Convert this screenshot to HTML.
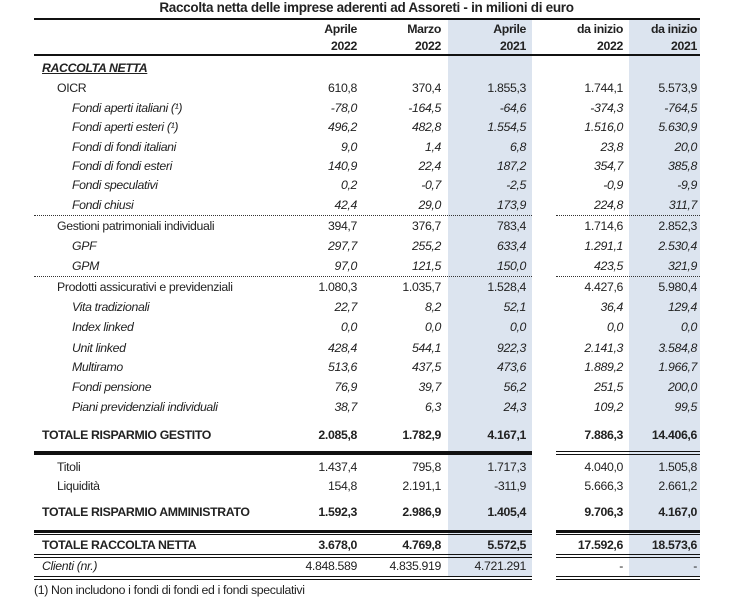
<!DOCTYPE html>
<html><head><meta charset="utf-8"><style>
body{margin:0;width:733px;height:604px;background:#fff;position:relative;overflow:hidden;font-family:"Liberation Sans",sans-serif;color:#222}
.a{position:absolute;white-space:nowrap}
.t{font-size:12.3px;letter-spacing:-0.35px}
.blue{position:absolute;background:#dce4ef}
.ln{position:absolute;background:#111}
.dot{position:absolute;border-top:1px dotted #333;height:0}
</style></head><body>
<div class="a" style="left:0;width:733px;text-align:center;top:0;font-size:13.5px;font-weight:bold;letter-spacing:-0.3px">Raccolta netta delle imprese aderenti ad Assoreti - in milioni di euro</div>
<div class="blue" style="left:448px;top:20px;width:84px;height:557px"></div>
<div class="blue" style="left:629px;top:20px;width:71px;height:557px"></div>
<div id="root"></div>
<script>
const colHeads1=["Aprile","Marzo","Aprile","da inizio","da inizio"];
const colHeads2=["2022","2022","2021","2022","2021"];
const colRight=[357,441,526,623,697];
const labels=["OICR","Fondi aperti italiani (¹)","Fondi aperti esteri (¹)","Fondi di fondi italiani","Fondi di fondi esteri","Fondi speculativi","Fondi chiusi","Gestioni patrimoniali individuali","GPF","GPM","Prodotti assicurativi e previdenziali","Vita tradizionali","Index linked","Unit linked","Multiramo","Fondi pensione","Piani previdenziali individuali","TOTALE RISPARMIO GESTITO","Titoli","Liquidità","TOTALE RISPARMIO AMMINISTRATO","TOTALE RACCOLTA NETTA","Clienti (nr.)"];
const rowY=[88,108,127,147,166,185,205,226,246,266,287,307,327,348,367,387,407,435,467,486,512,545,566];
const styles=["n","i","i","i","i","i","i","n","i","i","n","i","i","i","i","i","i","b","n","n","b","b","i"];
const aprile2022=["610,8","-78,0","496,2","9,0","140,9","0,2","42,4","394,7","297,7","97,0","1.080,3","22,7","0,0","428,4","513,6","76,9","38,7","2.085,8","1.437,4","154,8","1.592,3","3.678,0","4.848.589"];
const marzo2022=["370,4","-164,5","482,8","1,4","22,4","-0,7","29,0","376,7","255,2","121,5","1.035,7","8,2","0,0","544,1","437,5","39,7","6,3","1.782,9","795,8","2.191,1","2.986,9","4.769,8","4.835.919"];
const aprile2021=["1.855,3","-64,6","1.554,5","6,8","187,2","-2,5","173,9","783,4","633,4","150,0","1.528,4","52,1","0,0","922,3","473,6","56,2","24,3","4.167,1","1.717,3","-311,9","1.405,4","5.572,5","4.721.291"];
const ytd2022=["1.744,1","-374,3","1.516,0","23,8","354,7","-0,9","224,8","1.714,6","1.291,1","423,5","4.427,6","36,4","0,0","2.141,3","1.889,2","251,5","109,2","7.886,3","4.040,0","5.666,3","9.706,3","17.592,6","-"];
const ytd2021=["5.573,9","-764,5","5.630,9","20,0","385,8","-9,9","311,7","2.852,3","2.530,4","321,9","5.980,4","129,4","0,0","3.584,8","1.966,7","200,0","99,5","14.406,6","1.505,8","2.661,2","4.167,0","18.573,6","-"];
const series=[aprile2022,marzo2022,aprile2021,ytd2022,ytd2021];
const root=document.getElementById('root');
function txt(s,x,y,st,right){const d=document.createElement('div');d.className='a t';d.textContent=s;d.style.top=(y-7)+'px';
if(right){d.style.right=(733-x)+'px';}else d.style.left=x+'px';
if(st==='i')d.style.fontStyle='italic';if(st==='b')d.style.fontWeight='bold';root.appendChild(d);return d;}
colHeads1.forEach((h,i)=>{const d=txt(h,colRight[i],29,'b',true);


const e=txt(colHeads2[i],colRight[i],46,'b',true);

});
const sec=txt('RACCOLTA NETTA',42,68,'b',false);sec.style.fontStyle='italic';sec.style.textDecoration='underline';


labels.forEach((l,r)=>{
const x=(r===22)?42:(styles[r]==='i'?72:(styles[r]==='b'?42:57));
const d=txt(l,x,rowY[r],styles[r],false);


const vs=(r===22)?'n':styles[r];
series.forEach((s,c)=>{const v=txt(s[r],colRight[c],rowY[r],vs,true);

});});
function line(x,y,w,h,name){const d=document.createElement('div');d.className='ln';d.style.cssText=`left:${x}px;top:${y}px;width:${w}px;height:${h}px`;


root.appendChild(d);}
function dot(x,y,w){const d=document.createElement('div');d.className='dot';d.style.cssText=`left:${x}px;top:${y}px;width:${w}px`;


root.appendChild(d);}
line(34,18,666,2,'header-top-rule');line(34,54,666,2,'header-bottom-rule');
[215,276].forEach(y=>{dot(34,y,498);dot(556,y,144);});
line(34,451,498,4,'gestito-rule');line(556,451,144,1,'gestito-rule-right');line(556,454,144,1,'gestito-rule-right2');
line(34,530,498,3,'amministrato-rule');line(34,534,498,1,'amministrato-rule2');line(556,530,144,3,'amministrato-rule-right');line(556,534,144,1,'amministrato-rule-right2');
line(34,554,498,1,'total-rule');line(34,557,498,1,'total-rule2');line(556,554,144,1,'total-rule-right');line(556,557,144,1,'total-rule-right2');
line(34,576,498,1,'bottom-rule');line(34,579,498,1,'bottom-rule2');line(556,576,144,1,'bottom-rule-right');line(556,579,144,1,'bottom-rule-right2');
const f=txt('(1) Non includono i fondi di fondi ed i fondi speculativi',34,590,'n',false);


</script>
</body></html>
